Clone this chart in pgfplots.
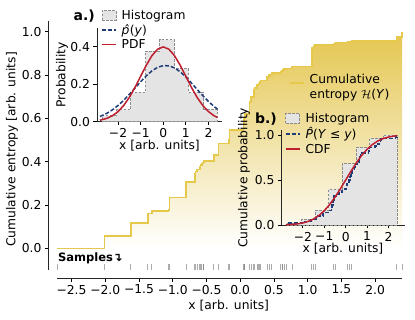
\documentclass[border=0pt]{standalone}
\usepackage{fontspec}
\setmainfont{DejaVu Sans}
\usepackage{pgfplots}
\pgfplotsset{compat=1.18}
\definecolor{gold}{RGB}{230,200,75}
\definecolor{goldfill}{RGB}{228,198,80}
\definecolor{pdfred}{RGB}{190,30,45}
\definecolor{navy}{RGB}{30,60,120}
\definecolor{histgray}{RGB}{228,228,228}
\definecolor{histedge}{RGB}{140,140,140}
\newcommand\lf{\fontsize{12.3bp}{15bp}\selectfont}
\pgfplotsset{
  mystyle/.style={scale only axis, anchor=south west,
    tick align=outside, major tick length=3.5bp,
    tick style={black, line width=0.8bp},
    tick label style={font=\lf}, label style={font=\lf},
    legend style={font=\lf, draw=none, fill=none, inner sep=0pt, row sep=1.5bp,
      nodes={inner sep=1bp}, /tikz/every odd column/.append style={column sep=4bp}},
    legend cell align=left,
    legend image code/.code={\draw[##1] (0bp,0bp) -- (14bp,0bp);},
  },
  histleg/.style={legend image code/.code={\draw[##1] (0bp,-4.5bp) rectangle (14bp,5bp);}},
}
\begin{document}
\begin{tikzpicture}
\path[use as bounding box] (0,0) rectangle (415bp,320bp);
% ---------------- main axis
\begin{axis}[mystyle, at={(48.5bp,42bp)}, width=360.45bp, height=257bp,
  xmin=-2.84, xmax=2.5, ymin=-0.137, ymax=1.05,
  axis lines*=left, axis line style={draw=none},
  xtick={-2.5,-2,-1.5,-1,-0.5,0,0.5,1,1.5,2},
  xticklabels={−2.5,−2.0,−1.5,−1.0,−0.5,0.0,0.5,1.0,1.5,2.0},
  ytick={0,0.2,0.4,0.6,0.8,1},
  yticklabels={0.0,0.2,0.4,0.6,0.8,1.0},
  xlabel={x [arb. units]}, ylabel={Cumulative entropy [arb. units]},
  xlabel style={at={(axis description cs:0.5,-0.109)}, anchor=center},
  ylabel style={at={(axis description cs:-0.101,0.5)}, anchor=center},
  legend style={at={(0.667,0.759)}, anchor=west},
  clip=false]
\addplot[const plot, draw=none, top color=goldfill, bottom color=white, forget plot] coordinates {
(-2.71,0) (-2.01,0.058) (-1.62,0.118) (-1.37,0.160) (-1.31,0.172) (-1.06,0.178) (-1.05,0.235) (-0.80,0.306) (-0.67,0.345) (-0.66,0.355) (-0.64,0.365) (-0.60,0.375) (-0.59,0.385) (-0.57,0.392) (-0.55,0.397) (-0.54,0.402) (-0.39,0.43) (-0.32,0.485) (-0.17,0.50) (-0.16,0.546) (0.05,0.578) (0.06,0.60) (0.07,0.62) (0.14,0.677) (0.16,0.70) (0.20,0.73) (0.21,0.74) (0.25,0.754) (0.27,0.762) (0.29,0.77) (0.30,0.775) (0.40,0.79) (0.43,0.80) (0.47,0.81) (0.60,0.816) (0.62,0.82) (0.63,0.823) (0.65,0.827) (0.69,0.831) (0.77,0.84) (1.06,0.925) (1.09,0.935) (1.11,0.94) (1.38,0.945) (1.41,0.95) (1.59,0.952) (1.62,0.955) (1.65,0.958) (2.32,0.975) (2.40,1.0) (2.40,0)
} -- cycle;
\addplot[const plot, draw=gold, line width=1.6bp] coordinates {
(-2.71,0) (-2.01,0.058) (-1.62,0.118) (-1.37,0.160) (-1.31,0.172) (-1.06,0.178) (-1.05,0.235) (-0.80,0.306) (-0.67,0.345) (-0.66,0.355) (-0.64,0.365) (-0.60,0.375) (-0.59,0.385) (-0.57,0.392) (-0.55,0.397) (-0.54,0.402) (-0.39,0.43) (-0.32,0.485) (-0.17,0.50) (-0.16,0.546) (0.05,0.578) (0.06,0.60) (0.07,0.62) (0.14,0.677) (0.16,0.70) (0.20,0.73) (0.21,0.74) (0.25,0.754) (0.27,0.762) (0.29,0.77) (0.30,0.775) (0.40,0.79) (0.43,0.80) (0.47,0.81) (0.60,0.816) (0.62,0.82) (0.63,0.823) (0.65,0.827) (0.69,0.831) (0.77,0.84) (1.06,0.925) (1.09,0.935) (1.11,0.94) (1.38,0.945) (1.41,0.95) (1.59,0.952) (1.62,0.955) (1.65,0.958) (2.32,0.975) (2.40,1.0)
};
\addlegendentry{\begin{tabular}{@{}l@{}}Cumulative\\entropy $\mathcal{H}$(\textit{Y})\end{tabular}}
\addplot[only marks, mark=|, mark size=3bp, mark options={draw=black!55, line width=1bp, opacity=0.6}, forget plot] coordinates {
(-2.71,-0.0864) (-2.01,-0.0864) (-1.62,-0.0864) (-1.37,-0.0864) (-1.31,-0.0864) (-1.06,-0.0864) (-1.05,-0.0864) (-0.80,-0.0864) (-0.67,-0.0864) (-0.66,-0.0864) (-0.64,-0.0864) (-0.60,-0.0864) (-0.59,-0.0864) (-0.57,-0.0864) (-0.55,-0.0864) (-0.54,-0.0864) (-0.39,-0.0864) (-0.32,-0.0864) (-0.17,-0.0864) (-0.16,-0.0864) (0.05,-0.0864) (0.06,-0.0864) (0.07,-0.0864) (0.14,-0.0864) (0.16,-0.0864) (0.20,-0.0864) (0.21,-0.0864) (0.25,-0.0864) (0.27,-0.0864) (0.29,-0.0864) (0.30,-0.0864) (0.40,-0.0864) (0.43,-0.0864) (0.47,-0.0864) (0.60,-0.0864) (0.62,-0.0864) (0.63,-0.0864) (0.65,-0.0864) (0.69,-0.0864) (0.77,-0.0864) (1.06,-0.0864) (1.09,-0.0864) (1.11,-0.0864) (1.38,-0.0864) (1.41,-0.0864) (1.59,-0.0864) (1.62,-0.0864) (1.65,-0.0864) (2.32,-0.0864) (2.40,-0.0864)
};
\draw[line width=0.8bp, black!85] (axis cs:-2.71,-0.137) -- (axis cs:2.40,-0.137);
\draw[line width=0.8bp, black!85] (axis cs:-2.84,-0.1) -- (axis cs:-2.84,1.05);
\node[anchor=west, inner sep=0pt, font=\bfseries\fontsize{11.5bp}{13bp}\selectfont] at (axis cs:-2.70,-0.045) {Samples↴};
\end{axis}
% ---------------- inset a
\begin{axis}[mystyle, at={(97bp,198.3bp)}, width=125bp, height=93.75bp,
  xmin=-2.93, xmax=2.6, ymin=0, ymax=0.5, clip=false,
  axis x line*=bottom, axis y line*=left, axis line style={-, line width=0.8bp, black!85},
  xtick={-2,-1,0,1,2}, xticklabels={−2,−1,0,1,2},
  ytick={0,0.2,0.4}, yticklabels={0.0,0.2,0.4},
  xlabel={x [arb. units]}, ylabel={Probability},
  xlabel style={at={(axis description cs:0.5,-0.259)}, anchor=center},
  ylabel style={at={(axis description cs:-0.28,0.5)}, anchor=center},
  legend style={at={(0.032,1.202)}, anchor=north west}]
\addplot[histleg, const plot, fill=histgray, draw=histedge, dash pattern=on 2.5bp off 1.5bp, line width=0.8bp] coordinates {
(-2.71,0.031) (-2.071,0.063) (-1.432,0.156) (-0.794,0.376) (-0.155,0.438) (0.484,0.282) (1.123,0.156) (1.761,0.063) (2.40,0.063)
} \closedcycle;
\addlegendentry{Histogram}
\addplot[navy, dash pattern=on 4bp off 2bp, line width=1.5bp] coordinates {
(-2.8,0.0278) (-2.5,0.0444) (-2.25,0.063) (-2.0,0.0863) (-1.75,0.114) (-1.5,0.1455) (-1.25,0.179) (-1.0,0.213) (-0.75,0.2446) (-0.5,0.271) (-0.25,0.290) (0,0.299) (0.25,0.298) (0.5,0.287) (0.75,0.266) (1.0,0.239) (1.25,0.206) (1.5,0.172) (1.75,0.139) (2.0,0.108) (2.25,0.081) (2.4,0.067)
};
\addlegendentry{\textit{p̂}(\textit{y})}
\addplot[pdfred, line width=1.5bp] coordinates {
(-2.8,0.0079) (-2.5,0.0175) (-2.25,0.0317) (-2.0,0.0540) (-1.75,0.0863) (-1.5,0.1295) (-1.25,0.1826) (-1.0,0.2420) (-0.75,0.3011) (-0.5,0.3521) (-0.25,0.3867) (0,0.3989) (0.25,0.3867) (0.5,0.3521) (0.75,0.3011) (1.0,0.2420) (1.25,0.1826) (1.5,0.1295) (1.75,0.0863) (2.0,0.0540) (2.25,0.0317) (2.4,0.0224)
};
\addlegendentry{PDF}
\node[anchor=east, inner sep=0pt, font=\bfseries\fontsize{14bp}{16bp}\selectfont] at (axis description cs:-0.016,1.127) {a.)};
\end{axis}
% ---------------- inset b
\begin{axis}[mystyle, at={(281.5bp,95bp)}, width=123bp, height=94.5bp,
  xmin=-3.0, xmax=2.75, ymin=0, ymax=1.05, clip=false,
  axis x line*=bottom, axis y line*=left, axis line style={-, line width=0.8bp, black!85},
  xtick={-2,-1,0,1,2}, xticklabels={−2,−1,0,1,2},
  ytick={0,0.5,1}, yticklabels={0.0,0.5,1.0},
  xlabel={x [arb. units]}, ylabel={Cumulative probability},
  xlabel style={at={(axis description cs:0.5,-0.254)}, anchor=center},
  ylabel style={at={(axis description cs:-0.305,0.5)}, anchor=center},
  legend style={at={(0.028,1.196)}, anchor=north west}]
\addplot[histleg, const plot, fill=histgray, draw=histedge, dash pattern=on 2.5bp off 1.5bp, line width=0.8bp] coordinates {
(-2.71,0.02) (-2.071,0.06) (-1.432,0.16) (-0.794,0.40) (-0.155,0.68) (0.484,0.86) (1.123,0.96) (1.761,1.0) (2.40,1.0)
} \closedcycle;
\addlegendentry{Histogram}
\addplot[const plot, navy, dash pattern=on 4bp off 2bp, line width=1.5bp] coordinates {
(-2.71,0.02) (-2.01,0.04) (-1.62,0.06) (-1.37,0.08) (-1.31,0.10) (-1.06,0.12) (-1.05,0.14) (-0.80,0.16) (-0.67,0.18) (-0.66,0.20) (-0.64,0.22) (-0.60,0.24) (-0.59,0.26) (-0.57,0.28) (-0.55,0.30) (-0.54,0.32) (-0.39,0.34) (-0.32,0.36) (-0.17,0.38) (-0.16,0.40) (0.05,0.42) (0.06,0.44) (0.07,0.46) (0.14,0.48) (0.16,0.50) (0.20,0.52) (0.21,0.54) (0.25,0.56) (0.27,0.58) (0.29,0.60) (0.30,0.62) (0.40,0.64) (0.43,0.66) (0.47,0.68) (0.60,0.70) (0.62,0.72) (0.63,0.74) (0.65,0.76) (0.69,0.78) (0.77,0.80) (1.06,0.82) (1.09,0.84) (1.11,0.86) (1.38,0.88) (1.41,0.90) (1.59,0.92) (1.62,0.94) (1.65,0.96) (2.32,0.98) (2.40,1.00)
};
\addlegendentry{\textit{P̂}(\textit{Y} ≤ \textit{y})}
\addplot[pdfred, line width=1.5bp] coordinates {
(-2.8,0.0026) (-2.5,0.0062) (-2.25,0.0122) (-2.0,0.0228) (-1.75,0.0401) (-1.5,0.0668) (-1.25,0.1056) (-1.0,0.1587) (-0.75,0.2266) (-0.5,0.3085) (-0.25,0.4013) (0,0.5) (0.25,0.5987) (0.5,0.6915) (0.75,0.7734) (1.0,0.8413) (1.25,0.8944) (1.5,0.9332) (1.75,0.9599) (2.0,0.9772) (2.25,0.9878) (2.4,0.9918)
};
\addlegendentry{CDF}
\node[anchor=east, inner sep=0pt, font=\bfseries\fontsize{14bp}{16bp}\selectfont] at (axis description cs:-0.037,1.122) {b.)};
\end{axis}
\end{tikzpicture}
\end{document}
